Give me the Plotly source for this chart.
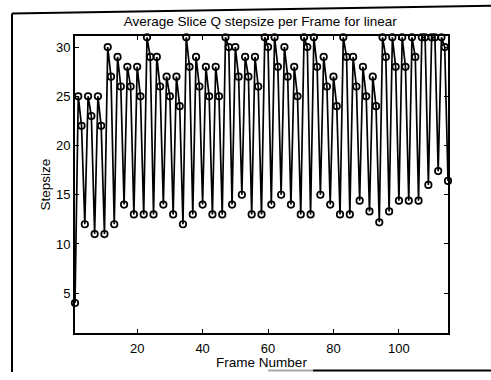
import plotly.graph_objects as go

frames = list(range(1, 116))
stepsize = [4,
            25, 22, 12, 25, 23, 11, 25, 22, 11, 30, 27, 12, 29, 26, 14,
            28, 26, 13, 28, 25, 13, 31, 29, 13, 29, 26, 14, 27, 25, 13,
            27, 24, 12, 31, 28, 13, 29, 26, 14, 28, 25, 13, 28, 25, 13,
            31, 30, 14, 30, 27, 15, 29, 27, 13, 29, 26, 13, 31, 30, 14,
            31, 28, 15, 30, 27, 14, 28, 25, 13, 31, 30, 13, 31, 28, 15,
            29, 26, 14, 27, 24, 13, 31, 29, 13, 29, 26, 14.4, 28, 25, 13.3,
            27, 24, 12.2, 31, 29, 13.3, 31, 28, 14.4, 31, 28, 14.4, 31, 29, 14.4,
            31, 31, 16, 31, 31, 17.4, 31, 30, 16.4]
x_ticks = [20, 40, 60, 80, 100]
y_ticks = [5, 10, 15, 20, 25, 30]

title_text = "Average Slice Q stepsize per Frame for linear"
x_title = "Frame Number"
y_title = "Stepsize"

FONT = "Liberation Sans, Arial, Helvetica, sans-serif"

fig = go.Figure()
fig.add_trace(go.Scatter(
    x=frames, y=stepsize, mode="lines+markers",
    line=dict(color="black", width=1.7),
    marker=dict(symbol="circle-open", size=6.5, color="black", line=dict(width=1.7)),
    cliponaxis=False, showlegend=False,
))

L, R, T, B = 75, 43, 36, 40
W, H = 491, 380
pw, ph = W - L - R, H - T - B

def px(xp):
    return (xp - L) / pw

def py(yp):
    return (H - B - yp) / ph

border = dict(color="black", width=2)
fig.add_shape(type="line", xref="paper", yref="paper",
              x0=px(12), y0=py(13), x1=px(12), y1=py(380), line=border)
fig.add_shape(type="line", xref="paper", yref="paper",
              x0=px(12), y0=py(13), x1=px(491), y1=py(5), line=border)
fig.add_shape(type="line", xref="paper", yref="paper",
              x0=px(268), y0=py(378.5), x1=px(313), y1=py(378.5),
              line=dict(color="#aaaaaa", width=2))
fig.add_shape(type="line", xref="paper", yref="paper",
              x0=px(313), y0=py(378.5), x1=px(491), y1=py(378.5), line=border)

axis_common = dict(
    showline=True, linecolor="black", linewidth=1.8, mirror="ticks",
    ticks="inside", ticklen=4, tickwidth=1.2, tickcolor="black",
    showgrid=False, zeroline=False,
    tickfont=dict(family=FONT, size=13, color="black"),
)

fig.update_layout(
    width=W, height=H,
    margin=dict(l=L, r=R, t=T, b=B, pad=0),
    paper_bgcolor="white", plot_bgcolor="white",
    title=dict(text=title_text, x=0.53, xanchor="center", y=1 - 21 / H, yanchor="middle",
               font=dict(family=FONT, size=13.5, color="black")),
    xaxis=dict(range=[1, 115], tickvals=x_ticks, ticklabelstandoff=2,
               title=dict(text=x_title, standoff=3, font=dict(family=FONT, size=13.5, color="black")),
               **axis_common),
    yaxis=dict(range=[0.95, 31.13], tickvals=y_ticks,
               title=dict(text=y_title, standoff=2, font=dict(family=FONT, size=13.5, color="black")),
               **axis_common),
)

fig.write_html("out.html")
